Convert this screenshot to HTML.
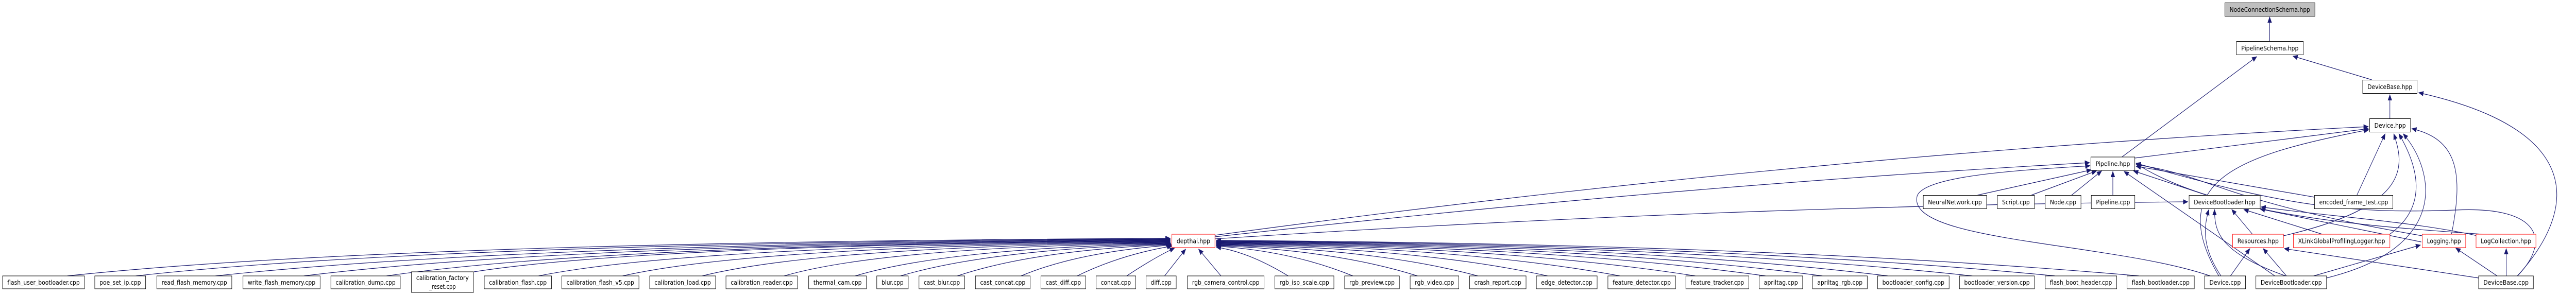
<!DOCTYPE html>
<html><head><meta charset="utf-8"><style>
html,body{margin:0;padding:0;background:#fff;overflow:hidden;width:100%;height:100%;}
svg{display:block;position:fixed;left:0;top:0;width:100vw;height:100vh;}
text{font-family:"DejaVu Sans","Liberation Sans",sans-serif;font-size:12.5px;fill:#000;text-anchor:middle;}
.b{fill:#fff;stroke:#000;stroke-width:1;}
.r{fill:#fff;stroke:#ff0000;stroke-width:1;}
.g{fill:#bfbfbf;stroke:#000;stroke-width:1;}
path.e{fill:none;stroke:#191970;stroke-width:1.2;marker-end:url(#a);}
</style></head><body>
<svg viewBox="0 0 5979 575" preserveAspectRatio="none" xmlns="http://www.w3.org/2000/svg">
<defs><marker id="a" markerUnits="userSpaceOnUse" markerWidth="12" markerHeight="10" refX="11" refY="5" orient="auto"><path d="M0,0 L12,5 L0,10 z" fill="#191970"/></marker></defs>

<path class="e" d="M156,536 Q900,470 2716,463"/>
<path class="e" d="M315,536 Q1000,472 2716,464"/>
<path class="e" d="M500,536 Q1200,473 2716,465"/>
<path class="e" d="M705,536 Q1300,474 2716,466"/>
<path class="e" d="M897,536 Q1400,475 2716,467"/>
<path class="e" d="M1100,528 Q1500,476 2716,468"/>
<path class="e" d="M1250,536 Q1600,477 2716,469"/>
<path class="e" d="M1445,536 Q1750,478 2716,470"/>
<path class="e" d="M1630,536 Q1900,479 2716,471"/>
<path class="e" d="M1820,536 Q2050,480 2717,472"/>
<path class="e" d="M1985,536 Q2200,482 2717,473"/>
<path class="e" d="M2090,536 Q2300,484 2718,474"/>
<path class="e" d="M2222,536 Q2400,486 2718,475"/>
<path class="e" d="M2370,536 Q2500,490 2719,476"/>
<path class="e" d="M2500,536 Q2600,495 2720,478"/>
<path class="e" d="M2615,536 Q2680,500 2726,482"/>
<path class="e" d="M2703,536 L2752,484"/>
<path class="e" d="M2834,536 L2782,484"/>
<path class="e" d="M2990,536 Q2900,490 2823,480"/>
<path class="e" d="M3140,536 Q3000,488 2823,478"/>
<path class="e" d="M3290,536 Q3100,486 2823,477"/>
<path class="e" d="M3430,536 Q3200,484 2823,476"/>
<path class="e" d="M3592,536 Q3300,482 2823,475"/>
<path class="e" d="M3760,536 Q3400,480 2823,474"/>
<path class="e" d="M3935,536 Q3500,479 2823,473"/>
<path class="e" d="M4098,536 Q3600,478 2823,472"/>
<path class="e" d="M4230,536 Q3700,477 2823,471"/>
<path class="e" d="M4382,536 Q3800,476 2823,470"/>
<path class="e" d="M4578,536 Q3900,475 2823,469"/>
<path class="e" d="M4770,536 Q4000,474 2823,468"/>
<path class="e" d="M4965,536 Q4100,473 2823,467"/>
<path class="e" d="M2820,457 Q4200,300 5497,246"/>
<path class="e" d="M2820,460 Q3900,360 4850,316"/>
<path class="e" d="M2820,464 Q4000,400 5078,392"/>

<path class="e" d="M5268,80 L5268,33"/>
<path class="e" d="M4925,305 L5238,110"/>
<path class="e" d="M5505,155 L5322,109"/>
<path class="e" d="M5547,230 L5547,184"/>
<path class="e" d="M5843,536 C5990,400 5990,250 5614,180"/>
<path class="e" d="M4955,307 L5497,250"/>
<path class="e" d="M5150,536 C5020,350 5200,300 5498,252"/>
<path class="e" d="M5470,380 L5536,260"/>
<path class="e" d="M5300,458 C5600,400 5580,320 5556,260"/>
<path class="e" d="M5545,456 C5640,400 5610,320 5568,260"/>
<path class="e" d="M5400,540 C5690,480 5650,330 5578,260"/>
<path class="e" d="M5690,455 C5720,330 5700,270 5598,250"/>
<path class="e" d="M4590,379 L4854,330"/>
<path class="e" d="M4715,379 L4866,332"/>
<path class="e" d="M4807,380 L4878,332"/>
<path class="e" d="M4904,380 L4904,333"/>
<path class="e" d="M5125,380 L4952,332"/>
<path class="e" d="M5280,536 L4930,333"/>
<path class="e" d="M5372,383 L4958,323"/>
<path class="e" d="M5622,458 C5150,390 5130,340 4958,320"/>
<path class="e" d="M5843,536 C5920,470 5900,400 5700,408 C5450,416 5300,400 4958,317"/>
<path class="e" d="M5780,456 C5500,440 5150,420 4958,318"/>
<path class="e" d="M5130,536 C4900,470 4420,470 4450,380 C4470,340 4700,330 4851,322"/>
<path class="e" d="M5155,536 C5110,480 5115,440 5127,407"/>
<path class="e" d="M5305,536 C5150,490 5140,450 5140,407"/>
<path class="e" d="M5228,455 L5180,407"/>
<path class="e" d="M5390,455 L5208,407"/>
<path class="e" d="M5620,470 L5246,406"/>
<path class="e" d="M5750,458 C5600,430 5400,420 5248,402"/>
<path class="e" d="M5177,536 L5222,483"/>
<path class="e" d="M5307,536 L5253,483"/>
<path class="e" d="M5753,540 L5302,483"/>
<path class="e" d="M5370,536 L5618,476"/>
<path class="e" d="M5796,536 L5700,482"/>
<path class="e" d="M5817,536 L5817,483"/>

<rect class="g" x="5164" y="5.5" width="209" height="26"/><text x="5268.5" y="23" textLength="187" lengthAdjust="spacingAndGlyphs">NodeConnectionSchema.hpp</text>
<rect class="b" x="5191" y="80.5" width="155" height="26"/><text x="5268.5" y="98" textLength="133" lengthAdjust="spacingAndGlyphs">PipelineSchema.hpp</text>
<rect class="b" x="5484" y="155.5" width="126" height="26"/><text x="5547" y="173" textLength="104" lengthAdjust="spacingAndGlyphs">DeviceBase.hpp</text>
<rect class="b" x="5500" y="230.5" width="95" height="26"/><text x="5547.5" y="248" textLength="73" lengthAdjust="spacingAndGlyphs">Device.hpp</text>
<rect class="b" x="4853" y="305" width="102" height="26"/><text x="4904" y="322.5" textLength="80" lengthAdjust="spacingAndGlyphs">Pipeline.hpp</text>
<rect class="b" x="4464" y="379.5" width="147" height="26"/><text x="4537.5" y="397" textLength="125" lengthAdjust="spacingAndGlyphs">NeuralNetwork.cpp</text>
<rect class="b" x="4636" y="379.5" width="86" height="26"/><text x="4679" y="397" textLength="64" lengthAdjust="spacingAndGlyphs">Script.cpp</text>
<rect class="b" x="4747" y="379.5" width="83" height="26"/><text x="4788.5" y="397" textLength="61" lengthAdjust="spacingAndGlyphs">Node.cpp</text>
<rect class="b" x="4854" y="379.5" width="101" height="26"/><text x="4904.5" y="397" textLength="79" lengthAdjust="spacingAndGlyphs">Pipeline.cpp</text>
<rect class="b" x="5081" y="379.5" width="165" height="26"/><text x="5163.5" y="397" textLength="143" lengthAdjust="spacingAndGlyphs">DeviceBootloader.hpp</text>
<rect class="b" x="5372" y="379.5" width="182" height="26"/><text x="5463" y="397" textLength="160" lengthAdjust="spacingAndGlyphs">encoded_frame_test.cpp</text>
<rect class="r" x="2720" y="455" width="100" height="26"/><text x="2770" y="472.5" textLength="78" lengthAdjust="spacingAndGlyphs">depthai.hpp</text>
<rect class="r" x="5182" y="455" width="118" height="26"/><text x="5241" y="472.5" textLength="96" lengthAdjust="spacingAndGlyphs">Resources.hpp</text>
<rect class="r" x="5323" y="455" width="224" height="26"/><text x="5435" y="472.5" textLength="202" lengthAdjust="spacingAndGlyphs">XLinkGlobalProfilingLogger.hpp</text>
<rect class="r" x="5622" y="455" width="101" height="26"/><text x="5672.5" y="472.5" textLength="79" lengthAdjust="spacingAndGlyphs">Logging.hpp</text>
<rect class="r" x="5747" y="455" width="139" height="26"/><text x="5816.5" y="472.5" textLength="117" lengthAdjust="spacingAndGlyphs">LogCollection.hpp</text>

<rect class="b" x="6" y="536" width="190" height="25"/><text x="101" y="553" textLength="168" lengthAdjust="spacingAndGlyphs">flash_user_bootloader.cpp</text>
<rect class="b" x="220" y="536" width="118" height="25"/><text x="279" y="553" textLength="96" lengthAdjust="spacingAndGlyphs">poe_set_ip.cpp</text>
<rect class="b" x="364" y="536" width="174" height="25"/><text x="451" y="553" textLength="152" lengthAdjust="spacingAndGlyphs">read_flash_memory.cpp</text>
<rect class="b" x="564" y="536" width="179" height="25"/><text x="653.5" y="553" textLength="157" lengthAdjust="spacingAndGlyphs">write_flash_memory.cpp</text>
<rect class="b" x="768" y="536" width="161" height="25"/><text x="848.5" y="553" textLength="139" lengthAdjust="spacingAndGlyphs">calibration_dump.cpp</text>
<rect class="b" x="955" y="528" width="144" height="40"/><text x="1027" y="544" textLength="122" lengthAdjust="spacingAndGlyphs">calibration_factory</text><text x="1027" y="561" textLength="62" lengthAdjust="spacingAndGlyphs">_reset.cpp</text>
<rect class="b" x="1124" y="536" width="156" height="25"/><text x="1202" y="553" textLength="134" lengthAdjust="spacingAndGlyphs">calibration_flash.cpp</text>
<rect class="b" x="1304" y="536" width="179" height="25"/><text x="1393.5" y="553" textLength="157" lengthAdjust="spacingAndGlyphs">calibration_flash_v5.cpp</text>
<rect class="b" x="1508" y="536" width="153" height="25"/><text x="1584.5" y="553" textLength="131" lengthAdjust="spacingAndGlyphs">calibration_load.cpp</text>
<rect class="b" x="1685" y="536" width="166" height="25"/><text x="1768" y="553" textLength="144" lengthAdjust="spacingAndGlyphs">calibration_reader.cpp</text>
<rect class="b" x="1877" y="536" width="134" height="25"/><text x="1944" y="553" textLength="112" lengthAdjust="spacingAndGlyphs">thermal_cam.cpp</text>
<rect class="b" x="2035" y="536" width="73" height="25"/><text x="2071.5" y="553" textLength="51" lengthAdjust="spacingAndGlyphs">blur.cpp</text>
<rect class="b" x="2133" y="536" width="106" height="25"/><text x="2186" y="553" textLength="84" lengthAdjust="spacingAndGlyphs">cast_blur.cpp</text>
<rect class="b" x="2264" y="536" width="127" height="25"/><text x="2327.5" y="553" textLength="105" lengthAdjust="spacingAndGlyphs">cast_concat.cpp</text>
<rect class="b" x="2416" y="536" width="104" height="25"/><text x="2468" y="553" textLength="82" lengthAdjust="spacingAndGlyphs">cast_diff.cpp</text>
<rect class="b" x="2544" y="536" width="92" height="25"/><text x="2590" y="553" textLength="70" lengthAdjust="spacingAndGlyphs">concat.cpp</text>
<rect class="b" x="2660" y="536" width="70" height="25"/><text x="2695" y="553" textLength="48" lengthAdjust="spacingAndGlyphs">diff.cpp</text>
<rect class="b" x="2756" y="536" width="178" height="25"/><text x="2845" y="553" textLength="156" lengthAdjust="spacingAndGlyphs">rgb_camera_control.cpp</text>
<rect class="b" x="2959" y="536" width="137" height="25"/><text x="3027.5" y="553" textLength="115" lengthAdjust="spacingAndGlyphs">rgb_isp_scale.cpp</text>
<rect class="b" x="3121" y="536" width="127" height="25"/><text x="3184.5" y="553" textLength="105" lengthAdjust="spacingAndGlyphs">rgb_preview.cpp</text>
<rect class="b" x="3273" y="536" width="113" height="25"/><text x="3329.5" y="553" textLength="91" lengthAdjust="spacingAndGlyphs">rgb_video.cpp</text>
<rect class="b" x="3411" y="536" width="131" height="25"/><text x="3476.5" y="553" textLength="109" lengthAdjust="spacingAndGlyphs">crash_report.cpp</text>
<rect class="b" x="3566" y="536" width="141" height="25"/><text x="3636.5" y="553" textLength="119" lengthAdjust="spacingAndGlyphs">edge_detector.cpp</text>
<rect class="b" x="3732" y="536" width="157" height="25"/><text x="3810.5" y="553" textLength="135" lengthAdjust="spacingAndGlyphs">feature_detector.cpp</text>
<rect class="b" x="3913" y="536" width="146" height="25"/><text x="3986" y="553" textLength="124" lengthAdjust="spacingAndGlyphs">feature_tracker.cpp</text>
<rect class="b" x="4083" y="536" width="101" height="25"/><text x="4133.5" y="553" textLength="79" lengthAdjust="spacingAndGlyphs">apriltag.cpp</text>
<rect class="b" x="4207" y="536" width="127" height="25"/><text x="4270.5" y="553" textLength="105" lengthAdjust="spacingAndGlyphs">apriltag_rgb.cpp</text>
<rect class="b" x="4358" y="536" width="166" height="25"/><text x="4441" y="553" textLength="144" lengthAdjust="spacingAndGlyphs">bootloader_config.cpp</text>
<rect class="b" x="4548" y="536" width="174" height="25"/><text x="4635" y="553" textLength="152" lengthAdjust="spacingAndGlyphs">bootloader_version.cpp</text>
<rect class="b" x="4747" y="536" width="166" height="25"/><text x="4830" y="553" textLength="144" lengthAdjust="spacingAndGlyphs">flash_boot_header.cpp</text>
<rect class="b" x="4937" y="536" width="156" height="25"/><text x="5015" y="553" textLength="134" lengthAdjust="spacingAndGlyphs">flash_bootloader.cpp</text>
<rect class="b" x="5117" y="536" width="95" height="25"/><text x="5164.5" y="553" textLength="73" lengthAdjust="spacingAndGlyphs">Device.cpp</text>
<rect class="b" x="5236" y="536" width="164" height="25"/><text x="5318" y="553" textLength="142" lengthAdjust="spacingAndGlyphs">DeviceBootloader.cpp</text>
<rect class="b" x="5753" y="536" width="127" height="25"/><text x="5816.5" y="553" textLength="105" lengthAdjust="spacingAndGlyphs">DeviceBase.cpp</text>
</svg>
</body></html>
